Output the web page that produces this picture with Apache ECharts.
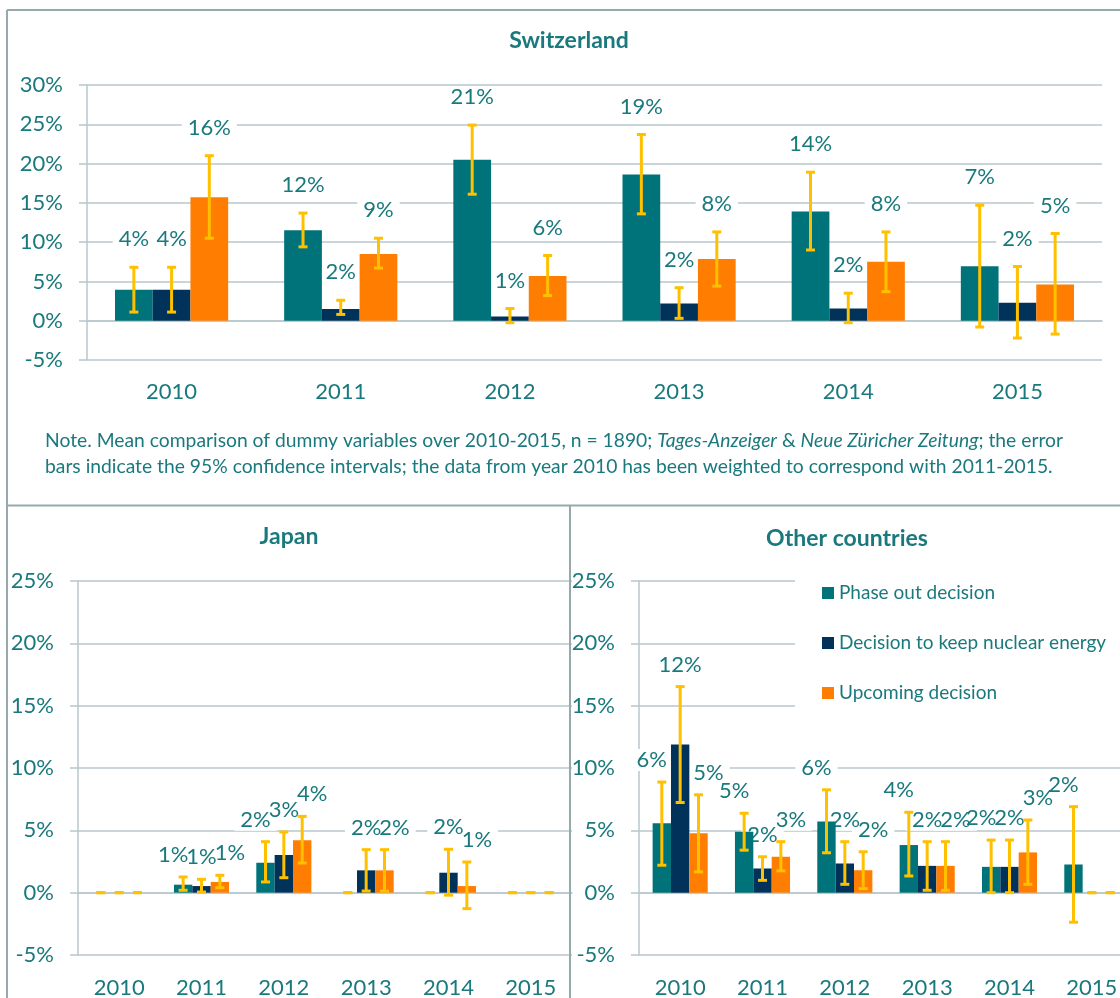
<!DOCTYPE html>
<html>
<head>
<meta charset="utf-8">
<script src="https://cdn.jsdelivr.net/npm/echarts@6/dist/echarts.min.js"></script>
<style>
  html, body { margin: 0; padding: 0; background: #fff; }
  #chart { width: 1120px; height: 998px; }
</style>
</head>
<body>
<div id="chart"></div>
<script>
// data, in %
const years = ['2010', '2011', '2012', '2013', '2014', '2015'];
const seriesNames = ['Phase out decision', 'Decision to keep nuclear energy', 'Upcoming decision'];

// Switzerland
const chPhase   = [3.95, 11.5, 20.5, 18.6, 13.9, 6.93];
const chPhaseLo = [1.1, 9.4, 16.1, 13.6, 9.0, -0.8];
const chPhaseHi = [6.8, 13.7, 24.9, 23.7, 18.9, 14.7];
const chKeep    = [3.95, 1.5, 0.55, 2.2, 1.55, 2.3];
const chKeepLo  = [1.1, 0.8, -0.25, 0.3, -0.25, -2.2];
const chKeepHi  = [6.8, 2.6, 1.55, 4.2, 3.5, 6.9];
const chUp      = [15.7, 8.5, 5.7, 7.85, 7.5, 4.6];
const chUpLo    = [10.5, 6.7, 3.2, 4.4, 3.7, -1.7];
const chUpHi    = [21.0, 10.5, 8.3, 11.3, 11.3, 11.1];

// Japan
const jpPhase   = [0, 0.64, 2.4, 0, 0, 0];
const jpPhaseLo = [0, 0.19, 0.86, 0, 0, 0];
const jpPhaseHi = [0, 1.26, 4.09, 0, 0, 0];
const jpKeep    = [0, 0.53, 3.02, 1.79, 1.6, 0];
const jpKeepLo  = [0, 0.05, 1.2, 0.13, -0.2, 0];
const jpKeepHi  = [0, 1.07, 4.87, 3.45, 3.48, 0];
const jpUp      = [0, 0.86, 4.2, 1.79, 0.53, 0];
const jpUpLo    = [0, 0.4, 2.38, 0.13, -1.28, 0];
const jpUpHi    = [0, 1.39, 6.12, 3.45, 2.46, 0];

// Other countries
const otPhase   = [5.56, 4.89, 5.7, 3.82, 2.07, 2.26];
const otPhaseLo = [2.2, 3.41, 3.2, 1.34, 0, -2.37];
const otPhaseHi = [8.87, 6.37, 8.25, 6.45, 4.22, 6.9];
const otKeep    = [11.88, 1.94, 2.34, 2.15, 2.07, 0];
const otKeepLo  = [7.23, 0.99, 0.67, 0.19, 0, 0];
const otKeepHi  = [16.53, 2.88, 4.09, 4.09, 4.22, 0];
const otUp      = [4.76, 2.88, 1.8, 2.15, 3.23, 0];
const otUpLo    = [1.67, 1.75, 0.32, 0.19, 0.67, 0];
const otUpHi    = [7.85, 4.09, 3.28, 4.09, 5.83, 0];

const TEAL = '#00737a', NAVY = '#00325a', ORANGE = '#ff7d00', GOLD = '#ffc000';
const TXT = '#1a797d', GRIDC = '#b7c7cb', FRAME = '#95a9ae';
const FONT = 'Lato';
const BAR_RATIO = 0.223;
const colors = [TEAL, NAVY, ORANGE];

const panels = [
    { vals: [chPhase, chKeep, chUp], lo: [chPhaseLo, chKeepLo, chUpLo], hi: [chPhaseHi, chKeepHi, chUpHi] },
    { vals: [jpPhase, jpKeep, jpUp], lo: [jpPhaseLo, jpKeepLo, jpUpLo], hi: [jpPhaseHi, jpKeepHi, jpUpHi] },
    { vals: [otPhase, otKeep, otUp], lo: [otPhaseLo, otKeepLo, otUpLo], hi: [otPhaseHi, otKeepHi, otUpHi] }
];
// label placement per panel: distance above the error bar, sideways spread of outer labels
const labelOffset = [28, 22, 22];
const labelSpread = [0, 10, 10];

function barX(api, i, k) {
    let band = api.size([1, 0])[0];
    return api.coord([i, 0])[0] + (k - 1) * band * BAR_RATIO;
}

function renderErr(params, api) {
    let i = api.value(0), k = api.value(4);
    let cx = barX(api, i, k);
    let yl = api.coord([i, api.value(1)])[1];
    let yh = api.coord([i, api.value(2)])[1];
    let st = { stroke: GOLD, lineWidth: 3 };
    return {
        type: 'group',
        children: [
            { type: 'line', shape: { x1: cx, y1: yl, x2: cx, y2: yh }, style: st },
            { type: 'line', shape: { x1: cx - 4.5, y1: yh, x2: cx + 4.5, y2: yh }, style: st },
            { type: 'line', shape: { x1: cx - 4.5, y1: yl, x2: cx + 4.5, y2: yl }, style: st }
        ]
    };
}

// value labels; boxOnly draws the white box that hides the gridlines
function labelRenderer(g, boxOnly) {
    return function (params, api) {
        let v = api.value(3);
        if (!(v > 0)) return null;
        let i = api.value(0), k = api.value(4);
        let cx = barX(api, i, k) + (k - 1) * labelSpread[g];
        let yh = api.coord([i, api.value(2)])[1];
        let style = {
            text: Math.round(v) + '%',
            fill: boxOnly ? '#fff' : TXT, fontFamily: FONT, fontSize: 22,
            align: 'center', verticalAlign: 'middle',
            textAlign: 'center', textVerticalAlign: 'middle'
        };
        if (boxOnly) {
            style.backgroundColor = '#fff';
            style.padding = [0, 6];
        }
        return { type: 'text', x: cx, y: yh - labelOffset[g], style: style };
    };
}

let grids = [
    { left: 87, top: 85, width: 1015, height: 275, outerBoundsMode: 'none', containLabel: false },
    { left: 78, top: 581, width: 494, height: 374, outerBoundsMode: 'none', containLabel: false },
    { left: 639, top: 581, width: 494, height: 374, outerBoundsMode: 'none', containLabel: false }
];
let yMax = [30, 25, 25];
let labelMargin = [21, 22, 22];

let xAxes = [], yAxes = [], series = [];
panels.forEach(function (p, g) {
    xAxes.push({
        gridIndex: g, type: 'category', data: years,
        axisLine: { lineStyle: { color: GRIDC, width: 1.5 } },
        axisTick: { length: 7, lineStyle: { color: GRIDC, width: 1.5 } },
        axisLabel: { margin: labelMargin[g], color: TXT, fontSize: 22, fontFamily: FONT }
    });
    yAxes.push({
        gridIndex: g, type: 'value', min: -5, max: yMax[g], interval: 5,
        axisLine: { show: true, lineStyle: { color: GRIDC, width: 1.5 } },
        axisTick: { show: true, length: 8, lineStyle: { color: GRIDC, width: 1.5 } },
        axisLabel: { formatter: '{value}%', margin: 24, color: TXT, fontSize: 22, fontFamily: FONT },
        splitLine: { lineStyle: { color: GRIDC, width: 1.5 } }
    });
    let items = [];
    for (let k = 0; k < 3; k++) {
        series.push({
            name: seriesNames[k], type: 'bar', xAxisIndex: g, yAxisIndex: g,
            data: p.vals[k], barWidth: (BAR_RATIO * 100) + '%', barGap: '0%',
            itemStyle: { color: colors[k] }, z: 2
        });
        for (let i = 0; i < years.length; i++) {
            items.push([i, p.lo[k][i], p.hi[k][i], p.vals[k][i], k]);
        }
    }
    series.push({
        type: 'custom', xAxisIndex: g, yAxisIndex: g, data: items, z: 1,
        encode: { x: 0, y: [1, 2] }, renderItem: labelRenderer(g, true), silent: true
    });
    series.push({
        type: 'custom', xAxisIndex: g, yAxisIndex: g, data: items, z: 1.5,
        encode: { x: 0, y: [1, 2] }, renderItem: labelRenderer(g, false), silent: true
    });
    series.push({
        type: 'custom', xAxisIndex: g, yAxisIndex: g, data: items, z: 3,
        encode: { x: 0, y: [1, 2] }, renderItem: renderErr, silent: true
    });
});

function frameLine(x1, y1, x2, y2) {
    return { type: 'line', shape: { x1: x1, y1: y1, x2: x2, y2: y2 }, style: { stroke: FRAME, lineWidth: 2 }, z: 100 };
}
function title(txt, x, y) {
    return {
        type: 'text', x: x, y: y, z: 100,
        style: { text: txt, fill: TXT, font: 'bold 23px ' + FONT, align: 'center', verticalAlign: 'middle', textAlign: 'center', textVerticalAlign: 'middle' }
    };
}
let noteRich = {
    n: { fill: TXT, color: TXT, fontSize: 19.3, fontFamily: FONT },
    i: { fill: TXT, color: TXT, fontSize: 19.3, fontFamily: FONT, fontStyle: 'italic' }
};

let myChart = echarts.init(document.getElementById('chart'));
let options = {
    animation: false,
    backgroundColor: '#fff',
    grid: grids,
    xAxis: xAxes,
    yAxis: yAxes,
    legend: {
        data: seriesNames,
        orient: 'vertical', left: 795, top: 569,
        backgroundColor: '#fff',
        padding: [14, 20, 14, 27],
        icon: 'rect', itemWidth: 12, itemHeight: 12, itemGap: 30,
        textStyle: { color: TXT, fontSize: 19, fontFamily: FONT, lineHeight: 20 },
        z: 10
    },
    series: series,
    graphic: [
        frameLine(7, 10, 1120, 10),
        frameLine(7, 10, 7, 998),
        frameLine(7, 505.5, 1120, 505.5),
        frameLine(570, 505.5, 570, 998),
        title('Switzerland', 569, 41),
        title('Japan', 289, 537),
        title('Other countries', 847, 539),
        {
            type: 'text', x: 45, y: 441, z: 100,
            style: {
                text: '{n|Note. Mean comparison of dummy variables over 2010-2015, n = 1890; }{i|Tages-Anzeiger}{n| & }{i|Neue Züricher Zeitung}{n|; the error}',
                rich: noteRich, verticalAlign: 'middle', textVerticalAlign: 'middle'
            }
        },
        {
            type: 'text', x: 45, y: 467, z: 100,
            style: {
                text: '{n|bars indicate the 95% confidence intervals; the data from year 2010 has been weighted to correspond with 2011-2015.}',
                rich: noteRich, verticalAlign: 'middle', textVerticalAlign: 'middle'
            }
        }
    ]
};
myChart.setOption(options);
</script>
</body>
</html>
